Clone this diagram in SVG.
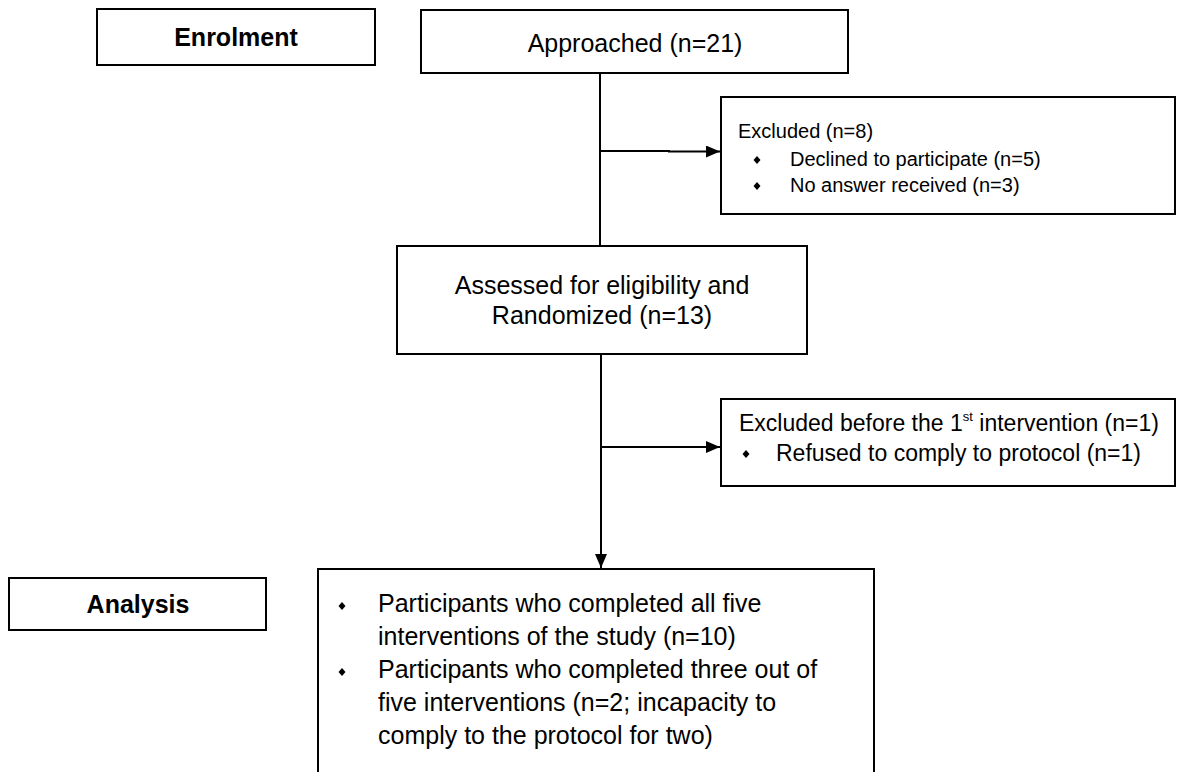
<svg xmlns="http://www.w3.org/2000/svg" xmlns:xlink="http://www.w3.org/1999/xlink" width="1198" height="772" viewBox="0 0 1198 772">
  <style>
    .box { fill: #ffffff; stroke: #000000; stroke-width: 2; }
    .edge { fill: none; stroke: #000000; stroke-width: 2; }
    .t { font-family: "Liberation Sans", Arial, sans-serif; fill: #000000; }
    .big { font-size: 25px; }
    .head { font-size: 25px; font-weight: bold; }
    .small { font-size: 20px; }
    .mid2 { font-size: 23px; }
    .sup { font-size: 13px; }
  </style>
  <defs>
    <marker id="arrow" viewBox="0 0 14 12" refX="14" refY="6" markerWidth="14" markerHeight="12" markerUnits="userSpaceOnUse" orient="auto">
      <path d="M0,0 L14,6 L0,12 Z" fill="#000000"/>
    </marker>
    <path id="bullet" d="M0,-4 L3.5,0 L0,4 L-3.5,0 Z" fill="#000000"/>
  </defs>

  <!-- connectors -->
  <g id="connectors">
    <line class="edge" x1="600" y1="73" x2="600" y2="246"/>
    <line class="edge" x1="600" y1="151" x2="670" y2="151"/>
    <line class="edge" x1="668" y1="151.5" x2="720" y2="151.5" stroke-width="2.6" marker-end="url(#arrow)"/>
    <line class="edge" x1="601" y1="354" x2="601" y2="568" marker-end="url(#arrow)"/>
    <line class="edge" x1="601" y1="447" x2="720" y2="447" marker-end="url(#arrow)"/>
  </g>

  <!-- stage labels -->
  <g id="enrolment">
    <rect class="box" x="97" y="9" width="278" height="56"/>
    <text class="t head" x="236" y="46" text-anchor="middle">Enrolment</text>
  </g>
  <g id="analysis">
    <rect class="box" x="9" y="578" width="257" height="52"/>
    <text class="t head" x="138" y="613" text-anchor="middle">Analysis</text>
  </g>

  <!-- flow nodes -->
  <g id="approached">
    <rect class="box" x="421" y="10" width="427" height="63"/>
    <text class="t big" x="635" y="52" text-anchor="middle">Approached (n=21)</text>
  </g>

  <g id="excluded1">
    <rect class="box" x="721" y="97" width="454" height="117"/>
    <text class="t small" x="738" y="138">Excluded (n=8)</text>
    <use xlink:href="#bullet" x="757" y="160"/>
    <text class="t small" x="790" y="166">Declined to participate (n=5)</text>
    <use xlink:href="#bullet" x="757" y="186"/>
    <text class="t small" x="790" y="192">No answer received (n=3)</text>
  </g>

  <g id="assessed">
    <rect class="box" x="397" y="246" width="410" height="108"/>
    <text class="t big" x="602" y="294" text-anchor="middle">Assessed for eligibility and</text>
    <text class="t big" x="602" y="324" text-anchor="middle">Randomized (n=13)</text>
  </g>

  <g id="excluded2">
    <rect class="box" x="721" y="399" width="454" height="87"/>
    <text class="t mid2" x="739" y="431">Excluded before the 1<tspan class="sup" dy="-10">st</tspan><tspan dy="10"> intervention (n=1)</tspan></text>
    <use xlink:href="#bullet" x="746" y="454"/>
    <text class="t mid2" x="776" y="461">Refused to comply to protocol (n=1)</text>
  </g>

  <g id="completed">
    <rect class="box" x="318" y="569" width="556" height="210"/>
    <use xlink:href="#bullet" x="342" y="606"/>
    <text class="t big" x="378" y="612">Participants who completed all five</text>
    <text class="t big" x="378" y="645">interventions of the study (n=10)</text>
    <use xlink:href="#bullet" x="342" y="672"/>
    <text class="t big" x="378" y="678">Participants who completed three out of</text>
    <text class="t big" x="378" y="711">five interventions (n=2; incapacity to</text>
    <text class="t big" x="378" y="744">comply to the protocol for two)</text>
  </g>
</svg>
